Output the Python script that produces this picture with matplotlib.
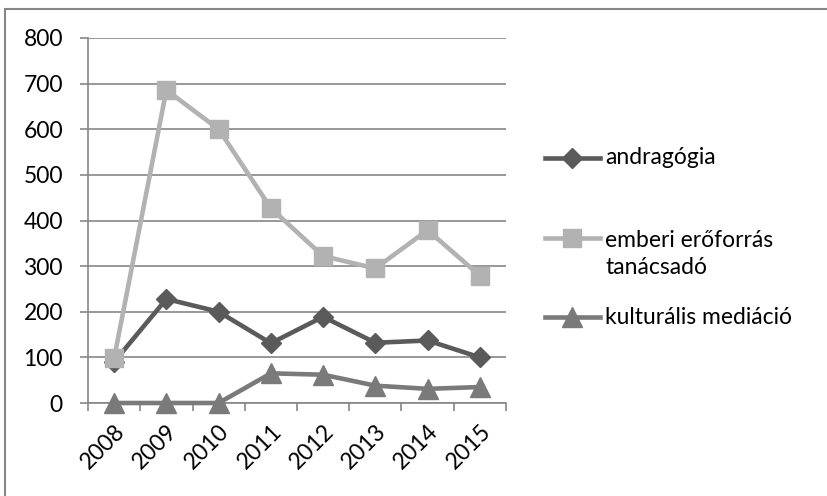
import matplotlib.pyplot as plt
from matplotlib.lines import Line2D
from matplotlib.patches import Rectangle
import numpy as np

plt.rcParams['font.family'] = ['Lato', 'DejaVu Sans']

# data
years = ["2008", "2009", "2010", "2011", "2012", "2013", "2014", "2015"]
andragogia = [90, 228, 200, 131, 189, 132, 137, 100]
emberi = [98, 686, 600, 427, 322, 295, 379, 279]
kulturalis = [0, 0, 0, 65, 62, 38, 31, 35]

labels = ["andragógia", "emberi erőforrás\ntanácsadó", "kulturális mediáció"]
colors = ["#5a5a5a", "#b2b2b2", "#7a7a7a"]
markers = ["D", "s", "^"]
msizes = [10, 13, 15]
grid_c = "#868686"
fs = 16.5

fig = plt.figure(figsize=(8.27, 4.96), dpi=100)
ax = fig.add_axes([88/827, 1 - 403/496, (506 - 88)/827, (403 - 38)/496])

x = np.arange(len(years))
series = [andragogia, emberi, kulturalis]
for vals, c, m, ms in zip(series, colors, markers, msizes):
    ax.plot(x, vals, color=c, lw=3.3, marker=m, ms=ms, mfc=c, mec=c,
            solid_joinstyle='miter', zorder=3, clip_on=False)

ax.set_xlim(-0.5, len(years) - 0.5)
ax.set_ylim(0, 800)
ax.set_yticks(np.arange(0, 801, 100))
ax.yaxis.grid(True, color=grid_c, lw=1.2)
ax.set_axisbelow(True)

ax.set_xticks(x)
ax.set_xticklabels(years, rotation=45, ha='right', rotation_mode='anchor')
ax.set_xticks(np.arange(-0.5, len(years)), minor=True)
ax.tick_params(axis='x', which='major', length=0, pad=13, labelsize=fs)
ax.tick_params(axis='x', which='minor', length=6, width=1.2, color=grid_c, direction='out')
ax.tick_params(axis='y', length=6, width=1.2, color=grid_c, pad=12, labelsize=fs)

for s in ['top', 'right']:
    ax.spines[s].set_visible(False)
for s in ['left', 'bottom']:
    ax.spines[s].set_color(grid_c)
    ax.spines[s].set_linewidth(1.2)

# legend drawn by hand to follow the original layout
leg_y = [158, 254, 317]
for lab, c, m, ms, yy in zip(labels, colors, markers, msizes, leg_y):
    yf = 1 - yy/496
    line_y = yf if "\n" not in lab else 1 - 238/496
    fig.add_artist(Line2D([545/827, 600/827], [line_y, line_y], color=c, lw=3.3,
                          transform=fig.transFigure))
    fig.add_artist(Line2D([572/827], [line_y], color=c, marker=m, ms=ms, mfc=c, mec=c,
                          transform=fig.transFigure))
    fig.text(605/827, yf, lab, fontsize=fs, va='center', ha='left', linespacing=1.35)

# chart border (only top/left fall inside the image)
fig.add_artist(Rectangle((5/827, -0.1), 1.2, 1 - 9/496 + 0.1, fill=False,
                         ec=grid_c, lw=1.5, transform=fig.transFigure))

fig.savefig("out.png", dpi=100)
